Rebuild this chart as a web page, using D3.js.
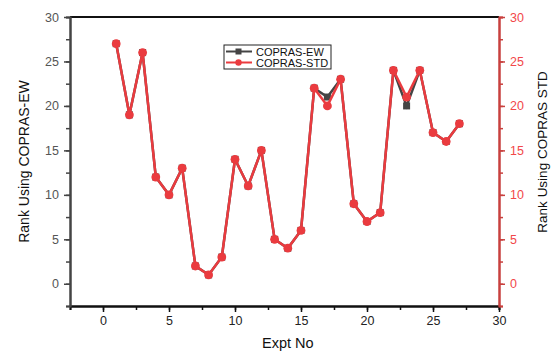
<!DOCTYPE html>
<html>
<head>
<meta charset="utf-8">
<script src="https://cdn.jsdelivr.net/npm/d3@7"></script>
<style>
body { margin: 0; background: #fff; }
text { font-family: Arial, "Liberation Sans", sans-serif; }
</style>
</head>
<body>
<svg id="chart"></svg>
<script>
const expt = [1,2,3,4,5,6,7,8,9,10,11,12,13,14,15,16,17,18,19,20,21,22,23,24,25,26,27];
const rankEW = [27,19,26,12,10,13,2,1,3,14,11,15,5,4,6,22,21,23,9,7,8,24,20,24,17,16,18];
const rankSTD = [27,19,26,12,10,13,2,1,3,14,11,15,5,4,6,22,20,23,9,7,8,24,21,24,17,16,18];
const xTicks = [0,5,10,15,20,25,30];
const yTicks = [0,5,10,15,20,25,30];
const seriesNames = ['COPRAS-EW', 'COPRAS-STD'];

const width = 555, height = 352;
const m = { left: 70, right: 56, top: 17, bottom: 46 };
const red = '#ea3b3f';
const axisRed = '#c8403e';

const svg = d3.select('#chart').attr('width', width).attr('height', height);

const x = d3.scaleLinear().domain([-2.5, 30]).range([m.left, width - m.right]);
const y = d3.scaleLinear().domain([-2.5, 30]).range([height - m.bottom, m.top]);

const minor = d3.range(-2.5, 30.01, 2.5);

// top frame line
svg.append('line')
	.attr('x1', m.left).attr('x2', width - m.right)
	.attr('y1', m.top).attr('y2', m.top)
	.attr('stroke', '#111').attr('stroke-width', 2);

function styleAxis(g, lineColor, textColor) {
	g.select('.domain').attr('stroke', lineColor).attr('stroke-width', 2);
	g.selectAll('.tick line').attr('stroke', lineColor).attr('stroke-width', 1.5);
	g.selectAll('.tick text').attr('fill', textColor).attr('font-size', 12.5)
		.attr('font-family', 'Arial, "Liberation Sans", sans-serif');
}

// minor ticks
function minorTicks(axisGen, scale) {
	return axisGen(scale).tickValues(minor).tickSize(4).tickFormat('');
}

// bottom
const gxm = svg.append('g').attr('transform', `translate(0,${height - m.bottom})`)
	.call(minorTicks(d3.axisBottom, x));
styleAxis(gxm, '#111', '#111');
const gx = svg.append('g').attr('transform', `translate(0,${height - m.bottom})`)
	.call(d3.axisBottom(x).tickValues(xTicks).tickSize(6).tickPadding(4).tickSizeOuter(0));
styleAxis(gx, '#111', '#222');

// left
const gym = svg.append('g').attr('transform', `translate(${m.left},0)`)
	.call(minorTicks(d3.axisLeft, y));
styleAxis(gym, '#444', '#555');
const gy = svg.append('g').attr('transform', `translate(${m.left},0)`)
	.call(d3.axisLeft(y).tickValues(yTicks).tickSize(6).tickPadding(5).tickSizeOuter(0));
styleAxis(gy, '#444', '#555');

// right
const grm = svg.append('g').attr('transform', `translate(${width - m.right},0)`)
	.call(minorTicks(d3.axisRight, y));
styleAxis(grm, axisRed, red);
const gr = svg.append('g').attr('transform', `translate(${width - m.right},0)`)
	.call(d3.axisRight(y).tickValues(yTicks).tickSize(6).tickPadding(5).tickSizeOuter(0));
styleAxis(gr, axisRed, '#f2474a');

// axis titles
svg.append('text')
	.attr('transform', `translate(29,${(m.top + height - m.bottom) / 2}) rotate(-90)`)
	.attr('text-anchor', 'middle').attr('font-size', 14).attr('fill', '#111')
	.text('Rank Using COPRAS-EW');
svg.append('text')
	.attr('transform', `translate(547,152) rotate(-90)`)
	.attr('text-anchor', 'middle').attr('font-size', 13.5).attr('fill', '#111')
	.text('Rank Using COPRAS STD');
svg.append('text')
	.attr('x', x(14)).attr('y', 348)
	.attr('text-anchor', 'middle').attr('font-size', 14.5).attr('fill', '#111')
	.text('Expt No');

const line = d3.line().x(d => x(d[0])).y(d => y(d[1]));
const ew = expt.map((e, i) => [e, rankEW[i]]);
const std = expt.map((e, i) => [e, rankSTD[i]]);

// EW series (dark, squares)
svg.append('path').datum(ew).attr('d', line)
	.attr('fill', 'none').attr('stroke', '#444').attr('stroke-width', 2.5);
svg.selectAll('rect.ew').data(ew).enter().append('rect')
	.attr('class', 'ew')
	.attr('x', d => x(d[0]) - 3.5).attr('y', d => y(d[1]) - 3.5)
	.attr('width', 7).attr('height', 7).attr('fill', '#444');

// STD series (red, circles)
svg.append('path').datum(std).attr('d', line)
	.attr('fill', 'none').attr('stroke', red).attr('stroke-width', 2.5);
svg.selectAll('circle.std').data(std).enter().append('circle')
	.attr('class', 'std')
	.attr('cx', d => x(d[0])).attr('cy', d => y(d[1]))
	.attr('r', 4.4).attr('fill', red);

// legend
const lg = svg.append('g').attr('transform', 'translate(224,45)');
lg.append('rect').attr('width', 107).attr('height', 24)
	.attr('fill', '#fff').attr('stroke', '#222').attr('stroke-width', 1);
const legendColors = ['#444', red];
seriesNames.forEach((name, i) => {
	const yy = 6.5 + i * 11;
	lg.append('line').attr('x1', 2).attr('x2', 28).attr('y1', yy).attr('y2', yy)
		.attr('stroke', legendColors[i]).attr('stroke-width', 2);
	if (i === 0) {
		lg.append('rect').attr('x', 11.5).attr('y', yy - 3).attr('width', 6).attr('height', 6)
			.attr('fill', legendColors[i]);
	} else {
		lg.append('circle').attr('cx', 14.5).attr('cy', yy).attr('r', 3.2)
			.attr('fill', legendColors[i]);
	}
	lg.append('text').attr('x', 32).attr('y', yy + 4)
		.attr('font-size', 11).attr('fill', '#111').text(name);
});
</script>
</body>
</html>
